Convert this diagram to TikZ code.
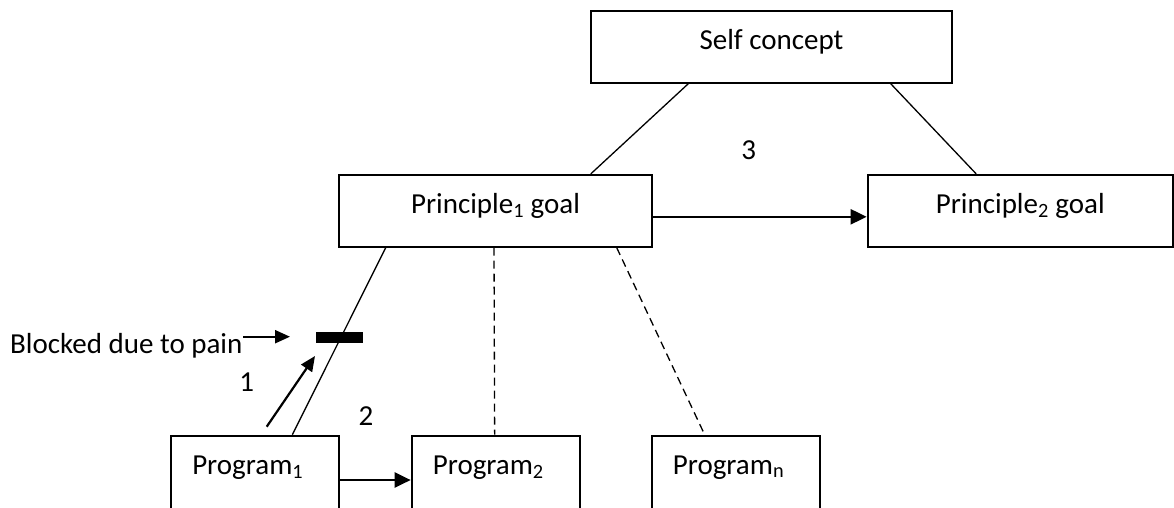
\documentclass[tikz,border=0pt]{standalone}
\usepackage{fontspec}
\setmainfont{Carlito}
\usetikzlibrary{arrows.meta,calc}
\begin{document}
\begin{tikzpicture}[x=1pt,y=-1pt,
  every node/.style={font=\fontsize{29}{34}\selectfont},
  box/.style={draw, line width=2pt, inner sep=0pt, text height=20pt, text depth=15pt},
  conn/.style={line width=1.3pt},
  dashconn/.style={line width=1.3pt, dash pattern=on 8pt off 5pt},
  arr/.style={line width=2.3pt, -{Triangle[length=16pt,width=15pt]}},
  sarr/.style={line width=2.2pt, -{Triangle[length=15pt,width=13pt]}},
  lbl/.style={inner sep=0pt, anchor=base}]
\useasboundingbox (0,0) rectangle (1174,507);
\clip (0,0) rectangle (1174,507);

% boxes
\node[box, minimum width=361pt, minimum height=72pt] (self) at (771.5,46.7) {Self concept};
\node[box, minimum width=313pt, minimum height=71.7pt] (p1) at (495.5,210.8) {Principle\textsubscript{1} goal};
\node[box, minimum width=305.3pt, minimum height=71.7pt] (p2) at (1020.3,210.8) {Principle\textsubscript{2} goal};
\node[box, minimum width=168.3pt, minimum height=124pt] (g1) at (255.2,497.7) {};
\node[box, minimum width=168.3pt, minimum height=124pt] (g2) at (495.8,497.7) {};
\node[box, minimum width=168.3pt, minimum height=124pt] (gn) at (735.8,497.7) {};
\node[lbl, anchor=base west] (g1t) at ($(g1.north west)+(22,39.3)$) {Program\textsubscript{1}};
\node[lbl, anchor=base west] (g2t) at ($(g2.north west)+(22,39.3)$) {Program\textsubscript{2}};
\node[lbl, anchor=base west] (gnt) at ($(gn.north west)+(22,39.3)$) {Program\textsubscript{n}};

% block bar
\node[fill=black, inner sep=0pt, minimum width=47.6pt, minimum height=11pt] (bar) at (339.5,337.2) {};

% labels
\node[lbl] (n3) at (748.7,159.3) {3};
\node[lbl] (n1) at (246.7,391.7) {1};
\node[lbl] (n2) at (366,425) {2};
\node[lbl, anchor=base west] (blk) at (10,353.3) {Blocked due to pain};

% free ends
\coordinate (bs) at (243,336.7);
\coordinate (be) at (290,336.7);
\coordinate (os) at (266.7,426.7);
\coordinate (oe) at (315,356);

% connectors
\draw[conn] ($(self.south west)+(98.3,0)$) -- ($(p1.north west)+(252.7,0)$);
\draw[conn] ($(self.south west)+(300.7,0)$) -- ($(p2.north west)+(109.6,0)$);
\draw[arr] ($(p1.east)+(0,6)$) -- ($(p2.west)+(0,6)$);
\draw[conn] ($(p1.south west)+(47.7,0)$) -- ($(g1.north west)+(122.3,0)$);
\draw[dashconn] ($(p1.south west)+(156,0)$) -- ($(g2.north west)+(84,0)$);
\draw[dashconn] ($(p1.south west)+(278.7,0)$) -- ($(gn.north west)+(54,0)$);
\draw[arr] ($(g1.north east)+(0,45.3)$) -- ($(g2.north west)+(0,45.3)$);
\draw[sarr] (bs) -- (be);
\draw[sarr] (os) -- (oe);
\end{tikzpicture}
\end{document}
